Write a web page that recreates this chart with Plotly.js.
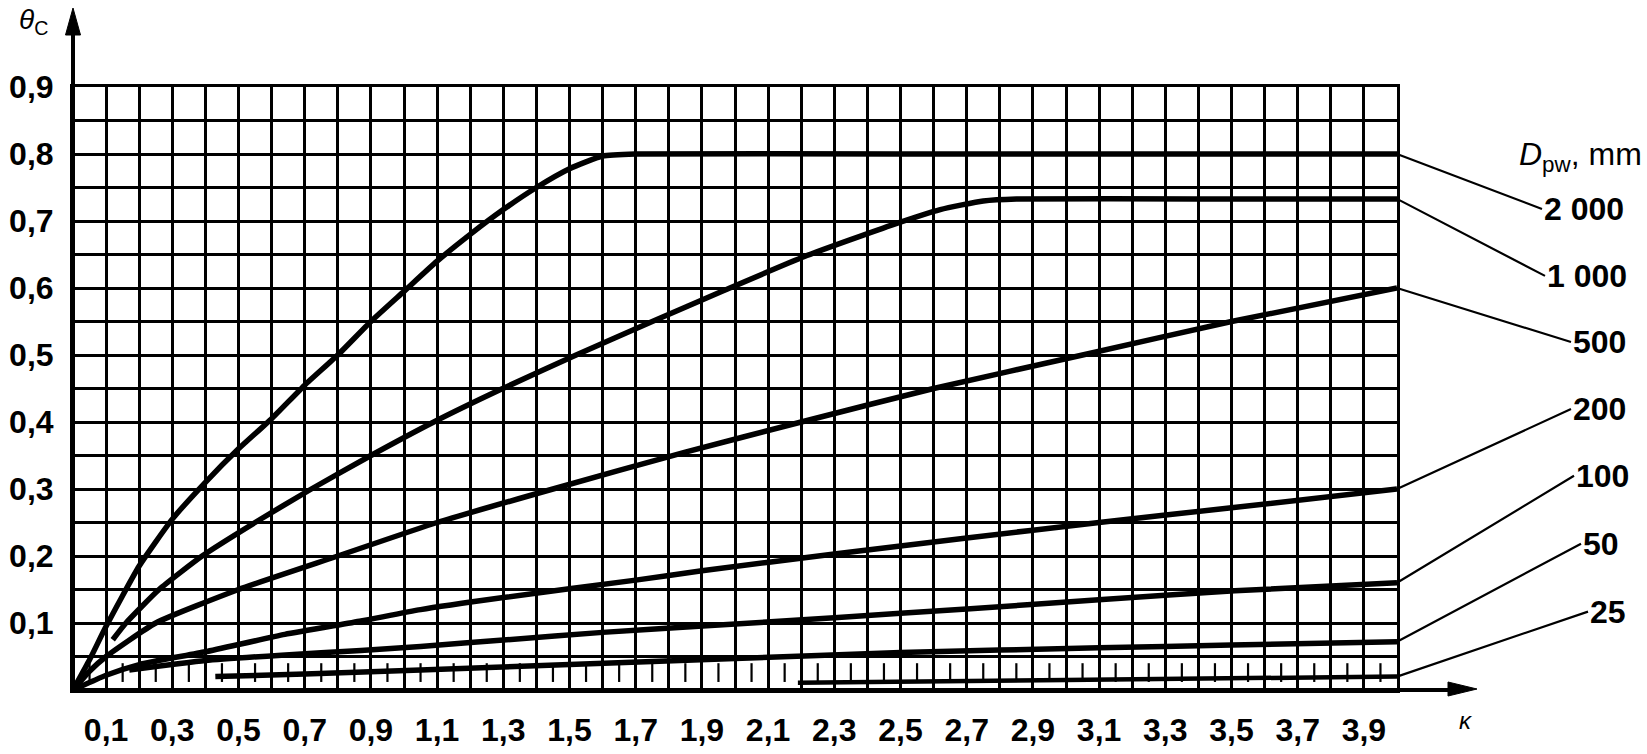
<!DOCTYPE html>
<html>
<head>
<meta charset="utf-8">
<script src="https://cdn.plot.ly/plotly-3.0.1.min.js"></script>
<style>
html,body{margin:0;padding:0;background:#fff;}
#chart{width:1647px;height:754px;}
</style>
</head>
<body>
<div id="chart"></div>
<script>
// ---- data (κ on x, θC on y) ----
const k2000  = [0, 0.05, 0.1, 0.2, 0.3, 0.4, 0.5, 0.6, 0.7, 0.8, 0.9, 1.0, 1.1, 1.2, 1.3, 1.4, 1.5, 1.6, 1.7, 2.5, 3.3, 4.0];
const th2000 = [0, 0.045, 0.095, 0.185, 0.255, 0.31, 0.36, 0.405, 0.455, 0.50, 0.55, 0.595, 0.64, 0.68, 0.717, 0.75, 0.778, 0.797, 0.80, 0.80, 0.80, 0.80];

const k1000  = [0.12, 0.16, 0.26, 0.39, 0.55, 0.72, 0.9, 1.09, 1.29, 1.52, 1.75, 1.97, 2.21, 2.48, 2.62, 2.75, 2.85, 3.4, 4.0];
const th1000 = [0.075, 0.10, 0.15, 0.20, 0.25, 0.30, 0.35, 0.40, 0.448, 0.50, 0.55, 0.597, 0.647, 0.695, 0.717, 0.73, 0.733, 0.733, 0.733];

const k500  = [0, 0.05, 0.1, 0.25, 0.5, 0.8, 1.1, 1.45, 1.85, 2.2, 2.6, 3.05, 3.5, 4.0];
const th500 = [0, 0.028, 0.05, 0.10, 0.15, 0.20, 0.25, 0.30, 0.355, 0.40, 0.45, 0.50, 0.55, 0.60];

const k200  = [0, 0.1, 0.2, 0.4, 0.64, 0.87, 1.05, 1.3, 1.7, 1.9, 2.3, 2.7, 3.1, 3.5, 4.0];
const th200 = [0, 0.022, 0.038, 0.057, 0.083, 0.103, 0.12, 0.138, 0.164, 0.178, 0.203, 0.227, 0.25, 0.272, 0.30];

const k100  = [0.17, 0.4, 0.63, 0.87, 1.05, 1.31, 1.6, 1.89, 2.3, 2.7, 3.11, 3.51, 4.0];
const th100 = [0.03, 0.044, 0.052, 0.059, 0.065, 0.075, 0.086, 0.095, 0.108, 0.121, 0.135, 0.148, 0.16];

const k50  = [0.43, 0.7, 1.05, 1.5, 2.0, 2.5, 3.1, 3.5, 4.0];
const th50 = [0.02, 0.024, 0.03, 0.038, 0.047, 0.056, 0.063, 0.067, 0.072];

const k25  = [2.19, 3.0, 4.0];
const th25 = [0.011, 0.015, 0.02];

const seriesLabels = ['2 000', '1 000', '500', '200', '100', '50', '25'];

const xTickVals = [0.1, 0.3, 0.5, 0.7, 0.9, 1.1, 1.3, 1.5, 1.7, 1.9, 2.1, 2.3, 2.5, 2.7, 2.9, 3.1, 3.3, 3.5, 3.7, 3.9];
const xTickText = ['0,1','0,3','0,5','0,7','0,9','1,1','1,3','1,5','1,7','1,9','2,1','2,3','2,5','2,7','2,9','3,1','3,3','3,5','3,7','3,9'];
const yTickVals = [0.1, 0.2, 0.3, 0.4, 0.5, 0.6, 0.7, 0.8, 0.9];
const yTickText = ['0,1','0,2','0,3','0,4','0,5','0,6','0,7','0,8','0,9'];

// ---- drawing ----
const seriesK  = [k2000, k1000, k500, k200, k100, k50, k25];
const seriesTh = [th2000, th1000, th500, th200, th100, th50, th25];

// leader-line offsets (pixels) from each curve end to its label
const leaderOffsets = [[145, 55], [148, 77], [174, 54], [174, -80], [177, -107], [184, -98], [191, -65]];

const FONT = 'Liberation Sans, Arial, sans-serif';
const ML = 73, MR = 250, MT = 87, MB = 64, W = 1647, H = 754;
const PW = W - ML - MR, PH = H - MT - MB;
const px = X => (X - ML) / PW;
const py = Y => (H - MB - Y) / PH;

const traces = seriesK.map((kk, i) => ({
  x: kk, y: seriesTh[i], type: 'scatter', mode: 'lines',
  line: {color: '#000', width: i === 6 ? 4.5 : 5.5, shape: 'spline', smoothing: 0.5},
  hoverinfo: 'skip', showlegend: false, cliponaxis: false
}));

const annotations = seriesK.map((kk, i) => ({
  x: kk[kk.length - 1], y: seriesTh[i][seriesTh[i].length - 1],
  xref: 'x', yref: 'y', text: '<b>' + seriesLabels[i] + '</b>',
  showarrow: true, arrowhead: 0, arrowwidth: 2.2, arrowcolor: '#000',
  axref: 'pixel', ayref: 'pixel', ax: leaderOffsets[i][0], ay: leaderOffsets[i][1],
  xanchor: 'left', yanchor: 'middle', standoff: 0, startstandoff: 0,
  font: {family: FONT, size: 32, color: '#000'}
}));

annotations.push(
  {xref: 'paper', yref: 'paper', x: px(33), y: py(22), text: '<i>θ</i><sub>C</sub>',
   showarrow: false, xanchor: 'center', yanchor: 'middle', font: {family: FONT, size: 28, color: '#000'}},
  {xref: 'paper', yref: 'paper', x: px(1466), y: py(720), text: '<i>κ</i>',
   showarrow: false, xanchor: 'center', yanchor: 'middle', font: {family: FONT, size: 24, color: '#000'}},
  {xref: 'paper', yref: 'paper', x: px(1644), y: py(156), text: '<i>D</i><sub>pw</sub>, mm',
   showarrow: false, xanchor: 'right', yanchor: 'middle', font: {family: FONT, size: 32, color: '#000'}}
);

const shapes = [];
// short marks in the lowest band of the grid
for (let i = 0; i < 40; i++) {
  const xv = (2 * i + 1) / 20;
  shapes.push({type: 'line', xref: 'x', yref: 'y', x0: xv, x1: xv, y0: 0.012, y1: 0.04,
               line: {color: '#000', width: 2.2}});
}
// axes with arrows
shapes.push(
  {type: 'line', xref: 'paper', yref: 'paper', x0: 0, x1: px(1452), y0: 0, y1: 0, line: {color: '#000', width: 4}},
  {type: 'path', xref: 'paper', yref: 'paper',
   path: `M ${px(1477)} ${py(689)} L ${px(1448)} ${py(682)} L ${px(1448)} ${py(696)} Z`,
   fillcolor: '#000', line: {color: '#000', width: 1}},
  {type: 'line', xref: 'paper', yref: 'paper', x0: 0, x1: 0, y0: 0, y1: py(30), line: {color: '#000', width: 4}},
  {type: 'path', xref: 'paper', yref: 'paper',
   path: `M ${px(73)} ${py(8)} L ${px(65.5)} ${py(35)} L ${px(80.5)} ${py(35)} Z`,
   fillcolor: '#000', line: {color: '#000', width: 1}}
);

const layout = {
  width: W, height: H,
  margin: {l: ML, r: MR, t: MT, b: MB, pad: 0},
  paper_bgcolor: '#fff', plot_bgcolor: '#fff',
  font: {family: FONT, color: '#000'},
  showlegend: false,
  xaxis: {
    range: [0, 4.0], tickmode: 'array', tickvals: xTickVals, ticktext: xTickText,
    showgrid: true, gridcolor: '#000', gridwidth: 3,
    minor: {tickmode: 'linear', tick0: 0, dtick: 0.1, showgrid: true, gridcolor: '#000', gridwidth: 3, ticks: ''},
    zeroline: false, showline: true, mirror: true, linecolor: '#000', linewidth: 3,
    ticks: '', ticklabelstandoff: 10,
    tickfont: {family: FONT, size: 32, color: '#000', weight: 'bold'}, fixedrange: true
  },
  yaxis: {
    range: [0, 0.9], tickmode: 'array', tickvals: yTickVals, ticktext: yTickText,
    showgrid: true, gridcolor: '#000', gridwidth: 3,
    minor: {tickmode: 'linear', tick0: 0, dtick: 0.05, showgrid: true, gridcolor: '#000', gridwidth: 3, ticks: ''},
    zeroline: false, showline: true, mirror: true, linecolor: '#000', linewidth: 3,
    ticks: '', ticklabelstandoff: 10,
    tickfont: {family: FONT, size: 32, color: '#000', weight: 'bold'}, fixedrange: true
  },
  shapes: shapes,
  annotations: annotations
};

Plotly.newPlot('chart', traces, layout, {staticPlot: true, displayModeBar: false});
</script>
</body>
</html>
